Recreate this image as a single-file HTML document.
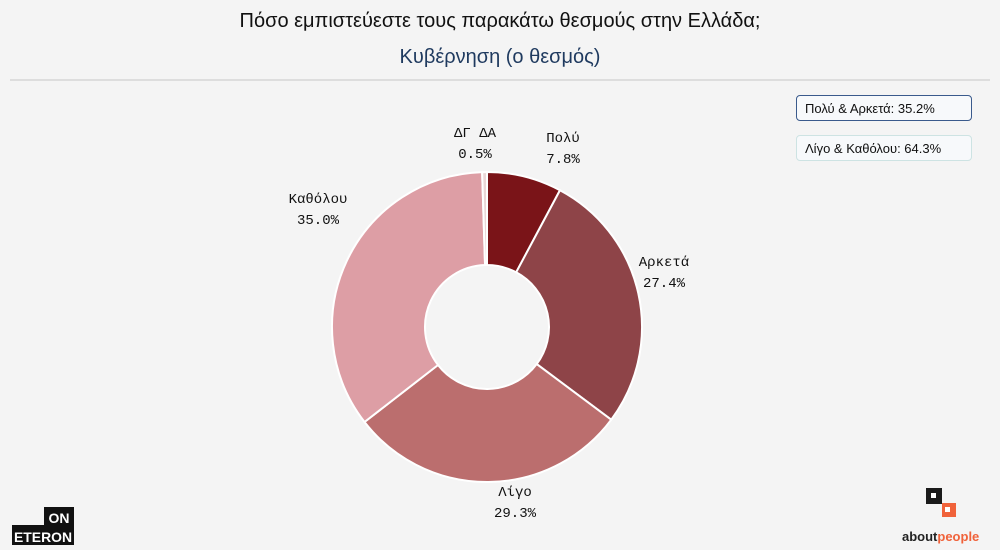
<!DOCTYPE html>
<html><head><meta charset="utf-8"><style>
body{margin:0;width:1000px;height:560px;background:#f4f4f4;font-family:"Liberation Sans",sans-serif;position:relative;overflow:hidden}
.t{position:absolute;left:0;width:1000px;text-align:center}
.box{position:absolute;left:796px;width:176px;height:26px;border-radius:4px;font-size:13px;line-height:26px;padding-left:8px;box-sizing:border-box;color:#111;background:#f7f9fb}
</style></head><body>
<div class="t" style="top:10px;font-size:20px;color:#111">Πόσο εμπιστεύεστε τους παρακάτω θεσμούς στην Ελλάδα;</div>
<div class="t" style="top:46px;font-size:20px;color:#1f3a5f">Κυβέρνηση (ο θεσμός)</div>
<div style="position:absolute;left:10px;top:79px;width:980px;height:2px;background:#ddd"></div>
<div class="box" style="top:95px;border:1.5px solid #3a5a8c">Πολύ &amp; Αρκετά: 35.2%</div>
<div class="box" style="top:135px;border:1.5px solid #cde3e3">Λίγο &amp; Καθόλου: 64.3%</div>
<svg id="s" width="1000" height="560" style="position:absolute;left:0;top:0">
<g id="g"></g>
<g font-family="Liberation Mono,monospace" font-size="14" fill="#111" text-anchor="middle">
<text x="475" y="137">ΔΓ ΔΑ</text><text x="475" y="158">0.5%</text>
<text x="563" y="142">Πολύ</text><text x="563" y="163">7.8%</text>
<text x="664" y="266">Αρκετά</text><text x="664" y="287">27.4%</text>
<text x="515" y="496">Λίγο</text><text x="515" y="517">29.3%</text>
<text x="318" y="203">Καθόλου</text><text x="318" y="224">35.0%</text>
</g>
<rect x="12" y="507" width="62" height="38" fill="#111"/>
<rect x="12" y="507" width="32" height="18" fill="#f4f4f4"/>
<text x="59" y="523" font-size="14" font-weight="bold" fill="#fff" text-anchor="middle">ON</text>
<text x="43" y="542" font-size="14" font-weight="bold" fill="#fff" text-anchor="middle" textLength="58" lengthAdjust="spacingAndGlyphs">ETERON</text>
<rect x="926" y="488" width="16" height="16" fill="#1a1a1a"/><rect x="931" y="493" width="5" height="5" fill="#fff"/>
<rect x="942" y="503" width="14" height="14" fill="#f0623a"/><rect x="945" y="507" width="5" height="5" fill="#fff"/>
<text x="902" y="541" font-size="13" font-weight="bold" fill="#222">about<tspan fill="#f0623a">people</tspan></text>
</svg>
<div style="position:absolute;left:0;top:550px;width:1000px;height:10px;background:#fff"></div>
<script>
var cx=487,cy=327,R=155,r=62,d=[[7.8,"#7a1418"],[27.4,"#8e4448"],[29.3,"#bb6e6e"],[35.0,"#dd9ea5"],[0.5,"#ead6d6"]],a=0,h="";
function p(rad,ang){ang*=Math.PI/180;return (cx+rad*Math.sin(ang)).toFixed(2)+","+(cy-rad*Math.cos(ang)).toFixed(2)}
d.forEach(function(s){var b=a+s[0]*3.6,l=(b-a)>180?1:0;
h+='<path d="M'+p(R,a)+'A'+R+','+R+' 0 '+l+' 1 '+p(R,b)+'L'+p(r,b)+'A'+r+','+r+' 0 '+l+' 0 '+p(r,a)+'Z" fill="'+s[1]+'" stroke="#fff" stroke-width="2"/>';a=b;});
document.getElementById("g").innerHTML=h;
</script>
</body></html>
